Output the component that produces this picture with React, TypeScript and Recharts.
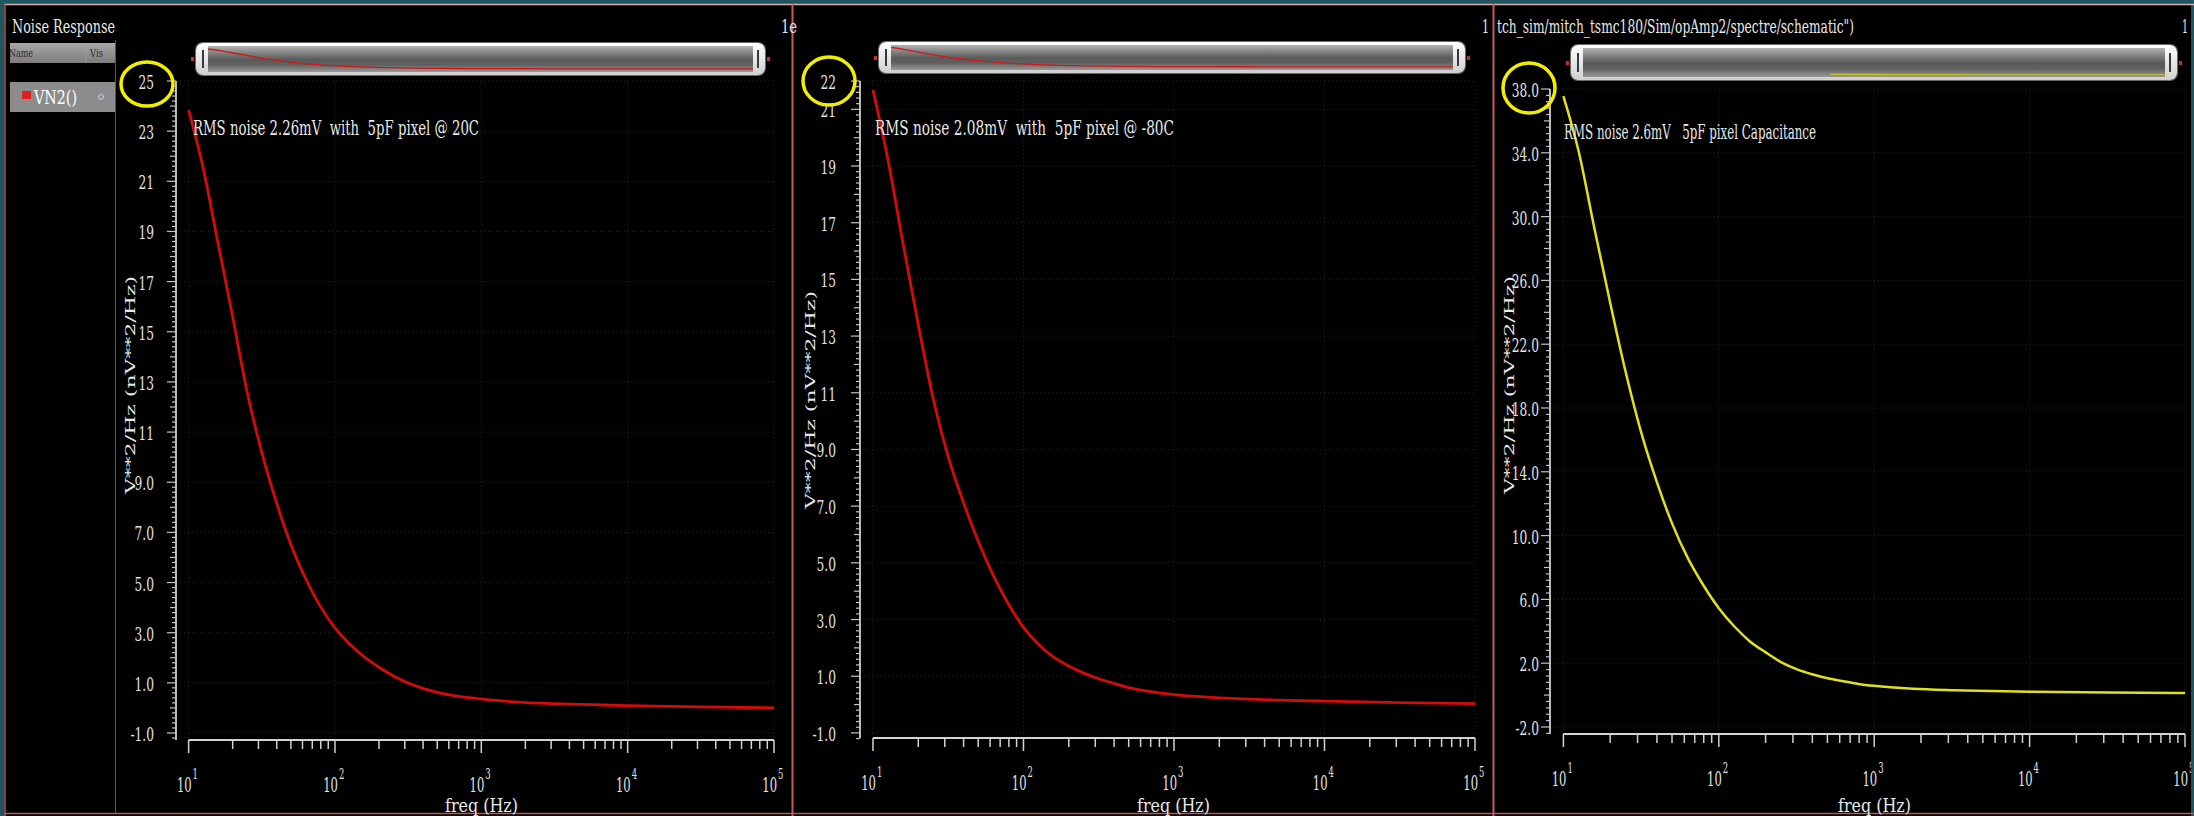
import React from "react";
import { LineChart, Line, XAxis, YAxis, CartesianGrid, ReferenceLine } from "recharts";

// ---------------- data ----------------
const freqHz = [10, 12.6, 15.8, 20, 25.1, 31.6, 39.8, 50.1, 63.1, 79.4, 100, 126, 158, 200, 251, 316, 398, 501, 631, 794, 1000, 1778, 3162, 5623, 10000, 31623, 100000];
const vn2At20C = [23.84, 21.5, 18.6, 15.6, 12.6, 10.2, 8.2, 6.5, 5.15, 4.05, 3.19, 2.55, 2.04, 1.62, 1.27, 0.99, 0.78, 0.62, 0.5, 0.42, 0.36, 0.23, 0.17, 0.13, 0.09, 0.04, 0.0];
const vn2AtMinus80C = [21.68, 19.2, 16.3, 13.4, 10.8, 8.75, 7.15, 5.75, 4.55, 3.55, 2.72, 2.12, 1.68, 1.36, 1.11, 0.91, 0.75, 0.6, 0.49, 0.41, 0.35, 0.25, 0.19, 0.15, 0.12, 0.07, 0.03];
const vn2Pixel5pF = [37.56, 34.0, 29.3, 24.6, 20.3, 16.5, 13.4, 10.75, 8.6, 6.9, 5.45, 4.3, 3.38, 2.68, 2.07, 1.63, 1.31, 1.06, 0.87, 0.7, 0.58, 0.4, 0.31, 0.25, 0.21, 0.16, 0.13];

const xDecades = [10, 100, 1000, 10000, 100000];
const xExponents = ["1", "2", "3", "4", "5"];
const xMinorMultipliers = [2, 3, 4, 5, 6, 7, 8, 9];

const yMajor20C = [-1, 1, 3, 5, 7, 9, 11, 13, 15, 17, 19, 21, 23, 25];
const yLabels20C = ["-1.0", "1.0", "3.0", "5.0", "7.0", "9.0", "11", "13", "15", "17", "19", "21", "23", "25"];
const yMajorMinus80C = [-1, 1, 3, 5, 7, 9, 11, 13, 15, 17, 19, 21, 22];
const yLabelsMinus80C = ["-1.0", "1.0", "3.0", "5.0", "7.0", "9.0", "11", "13", "15", "17", "19", "21", "22"];
const yMajorPixel = [-2, 2, 6, 10, 14, 18, 22, 26, 30, 34, 38];
const yLabelsPixel = ["-2.0", "2.0", "6.0", "10.0", "14.0", "18.0", "22.0", "26.0", "30.0", "34.0", "38.0"];

const rmsNotes = [
  "RMS noise 2.26mV  with  5pF pixel @ 20C",
  "RMS noise 2.08mV  with  5pF pixel @ -80C",
  "RMS noise 2.6mV   5pF pixel Capacitance",
];
const yAxisTitle = "V**2/Hz (nV**2/Hz)";
const xAxisTitle = "freq (Hz)";
const schematicPath = "tch_sim/mitch_tsmc180/Sim/opAmp2/spectre/schematic\")";

// ---------------- helpers ----------------
const FONT = "'DejaVu Serif', serif";

const toRows = (vals: number[]) => freqHz.map((f, i) => ({ f, v: vals[i] }));

const rulerTicks = (lo: number, hi: number, step: number) => {
  const out: number[] = [];
  const n = Math.floor((hi - lo) / step + 1e-6);
  for (let i = 0; i <= n; i++) out.push(Math.round((lo + i * step) * 100) / 100);
  return out;
};

const xTicks: number[] = [];
xDecades.forEach((d, i) => {
  xTicks.push(d);
  if (i < xDecades.length - 1) xMinorMultipliers.forEach((m) => xTicks.push(d * m));
});

function XTick(props: any) {
  const { x, y, payload } = props;
  const v = payload.value;
  const di = xDecades.findIndex((d) => Math.abs(d - v) < 1e-6 * d);
  const major = di >= 0;
  return (
    <g>
      <line x1={x} x2={x} y1={y} y2={y + (major ? 13 : 9)} stroke="#d2d2d2" strokeWidth={1.5} />
      {major && (
        <>
          <text transform={`translate(${x + 3} ${y + 52}) scale(0.55 1)`} textAnchor="end" fontSize={21} fill="#e4e4e4" fontFamily={FONT}>10</text>
          <text transform={`translate(${x + 4} ${y + 39}) scale(0.6 1)`} textAnchor="start" fontSize={14} fill="#e4e4e4" fontFamily={FONT}>{xExponents[di]}</text>
        </>
      )}
    </g>
  );
}

function makeYTick(cfg: any) {
  const labelMap: Record<string, string> = {};
  cfg.yMajor.forEach((v: number, i: number) => (labelMap[v.toFixed(1)] = cfg.yLabels[i]));
  return (props: any) => {
    const { x, y, payload } = props;
    const v = payload.value;
    const label = labelMap[v.toFixed(1)];
    const major = label !== undefined;
    const rel = (v - cfg.majorBase) / (cfg.majorStep / 2);
    const half = !major && Math.abs(rel - Math.round(rel)) < 1e-6;
    const len = major ? 9 : half ? 6 : 4;
    return (
      <g>
        <line x1={x - len} x2={x} y1={y} y2={y} stroke="#c4c4c4" strokeWidth={1.2} />
        {major && (
          <text transform={`translate(${x - cfg.labelGap} ${y + 8}) scale(0.66 1)`} textAnchor="end" fontSize={18.5} fill="#e2e2e2" fontFamily={FONT}>{label}</text>
        )}
      </g>
    );
  };
}

const panels = [
  {
    left: 116, width: 676, margin: { top: 81, right: 18, bottom: 16, left: 0 }, yAxisWidth: 60,
    yDomain: [-1.28, 25], yMajor: yMajor20C, yLabels: yLabels20C, majorBase: -1, majorStep: 2,
    ruler: rulerTicks(-1.2, 25, 0.2), labelGap: 22, values: vn2At20C, color: "#d40b0b", sw: 2.8,
  },
  {
    left: 794, width: 698, margin: { top: 81, right: 17, bottom: 18, left: 6 }, yAxisWidth: 60,
    yDomain: [-1.18, 22], yMajor: yMajorMinus80C, yLabels: yLabelsMinus80C, majorBase: -1, majorStep: 2,
    ruler: rulerTicks(-1.2, 22, 0.2), labelGap: 24, values: vn2AtMinus80C, color: "#d40b0b", sw: 2.8,
  },
  {
    left: 1494, width: 700, margin: { top: 89, right: 9, bottom: 22, left: 0 }, yAxisWidth: 56,
    yDomain: [-2.44, 38], yMajor: yMajorPixel, yLabels: yLabelsPixel, majorBase: -2, majorStep: 4,
    ruler: rulerTicks(-2.4, 38, 0.4), labelGap: 11, values: vn2Pixel5pF, color: "#e0e01e", sw: 2.5,
  },
];

function Panel({ cfg }: { cfg: any }) {
  const data = toRows(cfg.values);
  const yMin = cfg.yDomain[0];
  return (
    <div style={{ position: "absolute", left: cfg.left, top: 0 }}>
      <LineChart width={cfg.width} height={816} data={data} margin={cfg.margin}>
        <CartesianGrid stroke="#262626" strokeDasharray="1 3" horizontalValues={cfg.yMajor} verticalValues={xDecades} />
        <XAxis
          dataKey="f" type="number" scale="log" domain={[8.2, 100000]} allowDataOverflow
          ticks={xTicks} interval={0} tick={(p: any) => <XTick {...p} />}
          tickLine={false} axisLine={false} tickSize={0} tickMargin={0} height={60}
        />
        <YAxis
          type="number" domain={cfg.yDomain} allowDataOverflow ticks={cfg.ruler} interval={0}
          tick={makeYTick(cfg)} tickLine={false} axisLine={{ stroke: "#cfcfcf", strokeWidth: 1.8 }}
          tickSize={0} tickMargin={0} width={cfg.yAxisWidth}
        />
        <ReferenceLine
          segment={[{ x: 10, y: yMin }, { x: 100000, y: yMin }]}
          stroke="#d4d4d4" strokeWidth={2} ifOverflow="visible"
        />
        <Line type="monotone" dataKey="v" stroke={cfg.color} strokeWidth={cfg.sw} dot={false} isAnimationActive={false} />
      </LineChart>
    </div>
  );
}

function Scrollbar({ left, top, width, height, rows, domain, color }: any) {
  const innerW = width - 24;
  const innerH = height - 6;
  return (
    <div style={{ position: "absolute", left, top, width, height, borderRadius: 7, background: "linear-gradient(#ffffff, #cfcfcf)", boxShadow: "0 0 0 1px #6a6a6a" }}>
      <div style={{ position: "absolute", left: 12, top: 3, width: innerW, height: innerH, overflow: "hidden", background: "linear-gradient(#b4b4b4 0%, #8a8a8a 22%, #5a5a5a 52%, #606060 72%, #9a9a9a 100%)" }}>
        <LineChart width={innerW} height={innerH} data={rows} margin={{ top: 2, right: 0, bottom: 2, left: 0 }}>
          <XAxis dataKey="f" type="number" scale="log" domain={[10, 100000]} hide allowDataOverflow />
          <YAxis type="number" domain={domain} hide allowDataOverflow />
          <Line type="monotone" dataKey="v" stroke={color} strokeWidth={1.3} dot={false} isAnimationActive={false} />
        </LineChart>
      </div>
      <div style={{ position: "absolute", left: 6, top: height * 0.22, width: 2, height: height * 0.56, background: "#3a3a3a" }} />
      <div style={{ position: "absolute", right: 6, top: height * 0.22, width: 2, height: height * 0.56, background: "#3a3a3a" }} />
      <div style={{ position: "absolute", left: -5, top: height / 2 - 2, width: 3, height: 4, background: "#c43030" }} />
      <div style={{ position: "absolute", right: -5, top: height / 2 - 2, width: 3, height: 4, background: "#c43030" }} />
    </div>
  );
}

function Overlay() {
  const txt = { fontFamily: FONT, fill: "#e8e8e8", xmlSpace: "preserve" as any, style: { whiteSpace: "pre" as const } };
  return (
    <svg width={2194} height={816} style={{ position: "absolute", left: 0, top: 0, pointerEvents: "none" }}>
      {/* window frame */}
      <rect x={0} y={0} width={2194} height={4} fill="#1f5560" />
      <rect x={0} y={0} width={4} height={816} fill="#1f5560" />
      <rect x={2191} y={0} width={3} height={816} fill="#1f5560" />
      <line x1={4} x2={2194} y1={4.5} y2={4.5} stroke="#dcaeae" strokeWidth={1.5} />
      <line x1={5} x2={5} y1={4} y2={816} stroke="#b85858" strokeWidth={1.5} />
      <line x1={4} x2={2194} y1={813.5} y2={813.5} stroke="#b85858" strokeWidth={1.5} />
      <line x1={792.5} x2={792.5} y1={4} y2={816} stroke="#c85a5a" strokeWidth={2} />
      <line x1={1493.5} x2={1493.5} y1={4} y2={816} stroke="#c85a5a" strokeWidth={2} />
      <line x1={115.5} x2={115.5} y1={40} y2={813} stroke="#555" strokeWidth={1} />

      {/* sidebar */}
      <text x={12} y={33} fontSize={18} textLength={103} lengthAdjust="spacingAndGlyphs" {...txt}>Noise Response</text>
      <defs>
        <linearGradient id="hdr" x1="0" y1="0" x2="0" y2="1">
          <stop offset="0" stopColor="#a8a8a8" />
          <stop offset="1" stopColor="#7c7c7c" />
        </linearGradient>
      </defs>
      <rect x={10} y={43} width={105} height={20} fill="url(#hdr)" />
      <line x1={86} x2={86} y1={44} y2={62} stroke="#9a9a9a" />
      <text x={9} y={57} fontSize={11} textLength={24} lengthAdjust="spacingAndGlyphs" fontFamily={FONT} fill="#2a2a2a">Name</text>
      <text x={90} y={57} fontSize={11} textLength={13} lengthAdjust="spacingAndGlyphs" fontFamily={FONT} fill="#2a2a2a">Vis</text>
      <rect x={10} y={82} width={105} height={30} fill="#8c8c8c" />
      <rect x={22} y={91} width={9} height={8} fill="#e02020" />
      <text x={34} y={104} fontSize={18} textLength={43} lengthAdjust="spacingAndGlyphs" fontFamily={FONT} fill="#ffffff">VN2()</text>
      <circle cx={101} cy={97} r={2.5} fill="none" stroke="#c8c8f0" strokeWidth={1} />

      {/* top titles */}
      <text x={781} y={33} fontSize={18} textLength={16} lengthAdjust="spacingAndGlyphs" {...txt}>1e</text>
      <text x={1482} y={33} fontSize={18} textLength={7} lengthAdjust="spacingAndGlyphs" {...txt}>1</text>
      <text x={1497} y={33} fontSize={18} textLength={357} lengthAdjust="spacingAndGlyphs" {...txt}>{schematicPath}</text>
      <text x={2182} y={33} fontSize={18} textLength={6} lengthAdjust="spacingAndGlyphs" {...txt}>1</text>

      {/* notes */}
      <text x={193} y={135} fontSize={20} textLength={286} lengthAdjust="spacingAndGlyphs" {...txt}>{rmsNotes[0]}</text>
      <text x={875} y={135} fontSize={20} textLength={299} lengthAdjust="spacingAndGlyphs" {...txt}>{rmsNotes[1]}</text>
      <text x={1564} y={139} fontSize={20} textLength={252} lengthAdjust="spacingAndGlyphs" {...txt}>{rmsNotes[2]}</text>

      {/* y axis titles */}
      {[[135, 385], [815, 400], [1514, 385]].map(([x, y], i) => (
        <text key={i} transform={`translate(${x} ${y}) rotate(-90) scale(1 0.62)`} textAnchor="middle" fontSize={22} textLength={218} lengthAdjust="spacingAndGlyphs" {...txt}>{yAxisTitle}</text>
      ))}

      {/* x axis titles */}
      {[481, 1173, 1874].map((x, i) => (
        <text key={i} x={x - 36} y={812} fontSize={19} textLength={73} lengthAdjust="spacingAndGlyphs" {...txt}>{xAxisTitle}</text>
      ))}

      {/* yellow highlight circles */}
      <ellipse cx={147} cy={84} rx={26} ry={22} fill="none" stroke="#f2ee00" strokeWidth={3.5} />
      <ellipse cx={829} cy={81} rx={26} ry={24} fill="none" stroke="#f2ee00" strokeWidth={3.5} />
      <ellipse cx={1529} cy={88} rx={26} ry={25} fill="none" stroke="#f2ee00" strokeWidth={3.5} />
    </svg>
  );
}

const miniTail = toRows(vn2Pixel5pF).filter((r) => r.f >= 500);

export default function App() {
  return (
    <div style={{ position: "relative", width: 2194, height: 816, background: "#000", overflow: "hidden" }}>
      <style>{"body{margin:0;background:#000}"}</style>
      {panels.map((p, i) => (
        <Panel key={i} cfg={p} />
      ))}
      <Scrollbar left={196} top={43} width={569} height={32} rows={toRows(vn2At20C)} domain={[-1.28, 25]} color="#d01818" />
      <Scrollbar left={879} top={42} width={586} height={31} rows={toRows(vn2AtMinus80C)} domain={[-1.18, 22]} color="#d01818" />
      <Scrollbar left={1571} top={45} width={606} height={35} rows={miniTail} domain={[0, 30]} color="#c8c820" />
      <Overlay />
    </div>
  );
}
